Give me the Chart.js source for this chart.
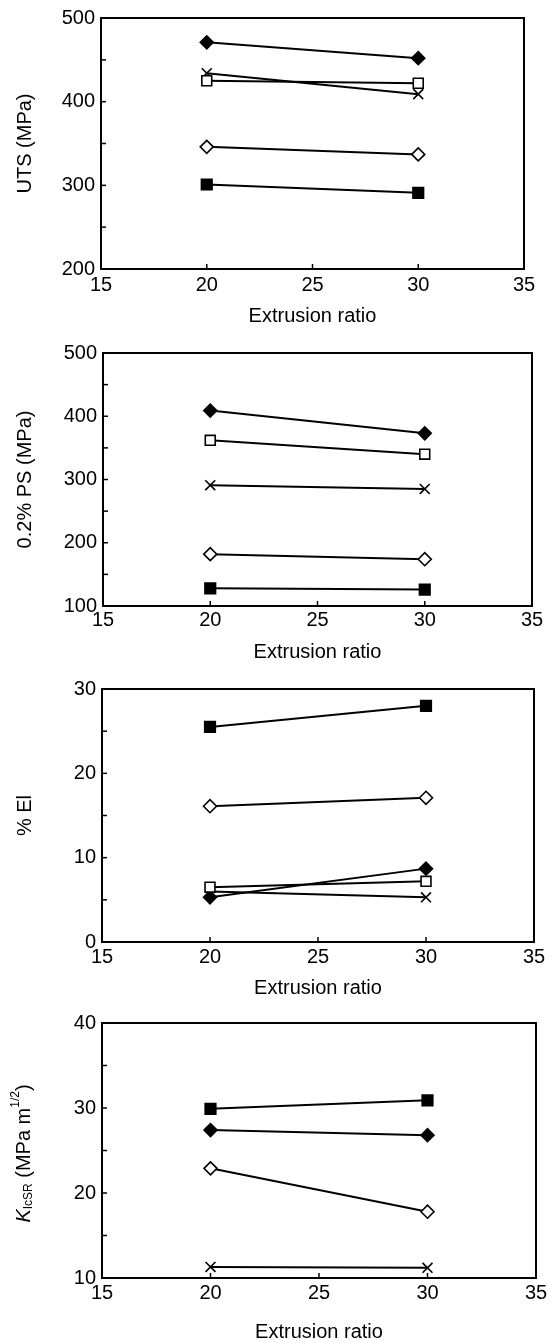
<!DOCTYPE html>
<html>
<head>
<meta charset="utf-8">
<script src="https://cdn.jsdelivr.net/npm/chart.js@4"></script>
<style>
  body { margin: 0; background: #fff; }
  #wrap { position: relative; width: 552px; height: 1343px; }
  canvas { position: absolute; left: 0; }
</style>
</head>
<body>
<div id="wrap">
  <canvas id="utsChart" width="552" height="335" style="top:0px"></canvas>
  <canvas id="psChart" width="552" height="335" style="top:335px"></canvas>
  <canvas id="elChart" width="552" height="335" style="top:670px"></canvas>
  <canvas id="kChart" width="552" height="338" style="top:1005px"></canvas>
</div>
<script>
// extrusion ratios tested
const extrusionRatio = [20, 30];
const xTicks = { min: 15, max: 35, step: 5 };

// UTS (MPa)
const utsFilledDiamond = [471, 452];
const utsOpenSquare = [425, 422];
const utsCross = [434, 409];
const utsOpenDiamond = [346, 337];
const utsFilledSquare = [301, 291];

// 0.2% proof stress (MPa)
const psFilledDiamond = [409, 373];
const psOpenSquare = [362, 340];
const psCross = [291, 285];
const psOpenDiamond = [182, 174];
const psFilledSquare = [128, 126];

// % elongation
const elFilledSquare = [25.5, 28.0];
const elOpenDiamond = [16.1, 17.1];
const elFilledDiamond = [5.3, 8.7];
const elOpenSquare = [6.5, 7.2];
const elCross = [6.0, 5.3];

// K_IcSR (MPa m^1/2)
const kFilledSquare = [29.9, 30.9];
const kFilledDiamond = [27.4, 26.8];
const kOpenDiamond = [22.9, 17.8];
const kCross = [11.3, 11.2];

// marker looks
const markers = {
  filledDiamond: { pointStyle: 'rectRot', radius: 6.5, fill: '#000' },
  openDiamond: { pointStyle: 'rectRot', radius: 6.5, fill: '#fff' },
  filledSquare: { pointStyle: 'rect', radius: 7.5, fill: '#000' },
  openSquare: { pointStyle: 'rect', radius: 7, fill: '#fff' },
  cross: { pointStyle: 'crossRot', radius: 7, fill: '#fff' }
};

const FONT = '"Liberation Sans", Arial, Helvetica, sans-serif';
Chart.defaults.color = '#000';
Chart.defaults.font.family = FONT;

function series(label, values, kind) {
  const m = markers[kind];
  return {
    label,
    data: extrusionRatio.map((x, i) => ({ x, y: values[i] })),
    borderColor: '#000',
    borderWidth: 2,
    pointStyle: m.pointStyle,
    pointRadius: m.radius,
    pointHoverRadius: m.radius,
    pointBackgroundColor: m.fill,
    pointBorderColor: '#000',
    pointBorderWidth: 1.6,
    tension: 0,
    fill: false,
    clip: false
  };
}

// frame + inward tick marks, placed through the chart's own scales
const framePlugin = {
  id: 'frame',
  afterDraw(chart) {
    const { ctx, chartArea: a, scales: { x, y } } = chart;
    const yStep = chart.options.scales.y.ticks.stepSize;
    ctx.save();
    ctx.strokeStyle = '#000';
    ctx.lineWidth = 1.5;
    for (let v = y.min; v <= y.max + 1e-9; v += yStep / 2) {
      const p = y.getPixelForValue(v);
      ctx.beginPath();
      ctx.moveTo(a.left, p);
      ctx.lineTo(a.left + 5, p);
      ctx.stroke();
    }
    [20, 25, 30].forEach(v => {
      const p = x.getPixelForValue(v);
      ctx.beginPath();
      ctx.moveTo(p, a.bottom);
      ctx.lineTo(p, a.bottom - 5);
      ctx.stroke();
    });
    ctx.lineWidth = 2;
    ctx.strokeRect(a.left, a.top, a.right - a.left, a.bottom - a.top);
    ctx.restore();
  }
};

// K_IcSR axis title with italic K, subscript and superscript
const kTitlePlugin = {
  id: 'kTitle',
  afterDraw(chart) {
    const { ctx, chartArea: a } = chart;
    const parts = [
      { t: 'K', font: 'italic 20px ' + FONT, dy: 0 },
      { t: 'IcSR', font: '12px ' + FONT, dy: 5 },
      { t: ' (MPa m', font: '20px ' + FONT, dy: 0 },
      { t: '1/2', font: '12px ' + FONT, dy: -8 },
      { t: ')', font: '20px ' + FONT, dy: 0 }
    ];
    ctx.save();
    let total = 0;
    parts.forEach(p => { ctx.font = p.font; p.w = ctx.measureText(p.t).width; total += p.w; });
    ctx.translate(24, (a.top + a.bottom) / 2 + 3);
    ctx.rotate(-Math.PI / 2);
    ctx.fillStyle = '#000';
    ctx.textBaseline = 'middle';
    let cx = -total / 2;
    parts.forEach(p => {
      ctx.font = p.font;
      ctx.fillText(p.t, cx, p.dy);
      cx += p.w;
    });
    ctx.restore();
  }
};

function makeChart(id, datasets, yAxis, box) {
  const canvas = document.getElementById(id);
  const top = parseFloat(canvas.style.top);
  const end = top + canvas.height;
  const plugins = [framePlugin];
  if (!yAxis.title) plugins.push(kTitlePlugin);
  return new Chart(canvas.getContext('2d'), {
    type: 'line',
    data: { datasets },
    plugins,
    options: {
      responsive: false,
      animation: false,
      events: [],
      layout: { padding: { top: box.top - top, right: 552 - box.right, bottom: 0, left: 0 } },
      plugins: { legend: { display: false }, tooltip: { enabled: false } },
      scales: {
        x: {
          type: 'linear',
          min: xTicks.min,
          max: xTicks.max,
          grid: { display: false, drawTicks: false },
          border: { display: false },
          ticks: { stepSize: xTicks.step, autoSkip: false, maxRotation: 0, padding: box.xPad, font: { size: 20 } },
          title: {
            display: true,
            text: 'Extrusion ratio',
            font: { size: 20, lineHeight: 1 },
            padding: { top: 0, bottom: end - box.titleY - 10 }
          },
          afterFit(scale) { scale.height = end - box.bottom; }
        },
        y: {
          min: yAxis.min,
          max: yAxis.max,
          grid: { display: false, drawTicks: false },
          border: { display: false },
          ticks: { stepSize: yAxis.step, autoSkip: false, padding: 6, font: { size: 20 } },
          title: {
            display: !!yAxis.title,
            text: yAxis.title || '',
            font: { size: 20, lineHeight: 1 },
            padding: { top: 15, bottom: 0 }
          },
          afterFit(scale) { scale.width = box.left; }
        }
      }
    }
  });
}

makeChart('utsChart', [
  series('Filled diamond', utsFilledDiamond, 'filledDiamond'),
  series('Open square', utsOpenSquare, 'openSquare'),
  series('Cross', utsCross, 'cross'),
  series('Open diamond', utsOpenDiamond, 'openDiamond'),
  series('Filled square', utsFilledSquare, 'filledSquare')
], { min: 200, max: 500, step: 100, title: 'UTS (MPa)' },
   { left: 101, right: 524, top: 14, bottom: 269, xPad: 4, titleY: 316 });

makeChart('psChart', [
  series('Filled diamond', psFilledDiamond, 'filledDiamond'),
  series('Open square', psOpenSquare, 'openSquare'),
  series('Cross', psCross, 'cross'),
  series('Open diamond', psOpenDiamond, 'openDiamond'),
  series('Filled square', psFilledSquare, 'filledSquare')
], { min: 100, max: 500, step: 100, title: '0.2% PS (MPa)' },
   { left: 103, right: 532, top: 351, bottom: 606, xPad: 2, titleY: 652 });

makeChart('elChart', [
  series('Filled square', elFilledSquare, 'filledSquare'),
  series('Open diamond', elOpenDiamond, 'openDiamond'),
  series('Open square', elOpenSquare, 'openSquare'),
  series('Filled diamond', elFilledDiamond, 'filledDiamond'),
  series('Cross', elCross, 'cross')
], { min: 0, max: 30, step: 10, title: '% El' },
   { left: 102, right: 534, top: 689, bottom: 942, xPad: 3, titleY: 988 });

makeChart('kChart', [
  series('Filled square', kFilledSquare, 'filledSquare'),
  series('Filled diamond', kFilledDiamond, 'filledDiamond'),
  series('Open diamond', kOpenDiamond, 'openDiamond'),
  series('Cross', kCross, 'cross')
], { min: 10, max: 40, step: 10, title: null },
   { left: 102, right: 536, top: 1023, bottom: 1278, xPad: 3, titleY: 1332 });
</script>
</body>
</html>
